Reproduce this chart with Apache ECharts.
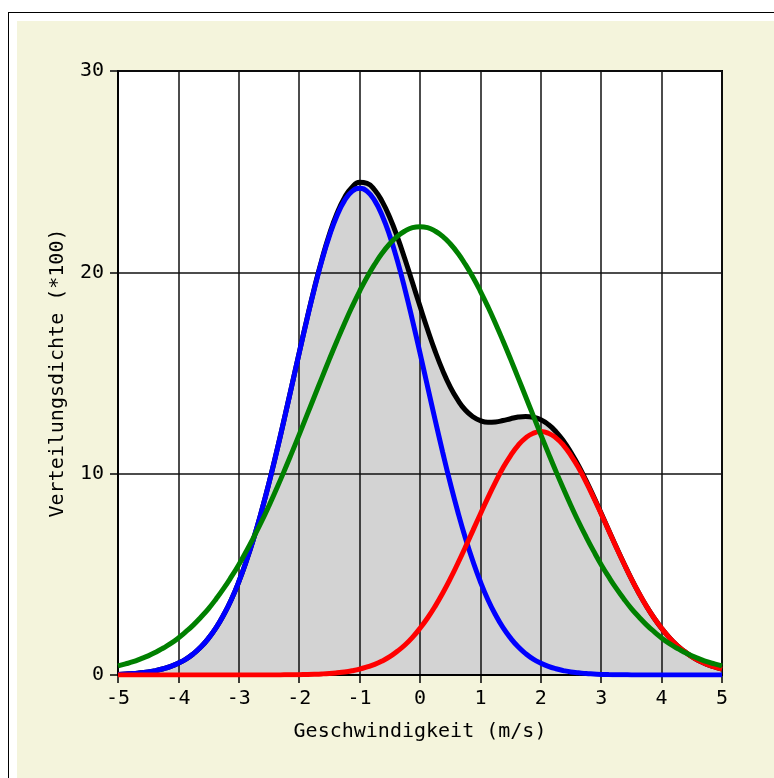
<!DOCTYPE html>
<html>
<head>
<meta charset="utf-8">
<script src="https://cdn.jsdelivr.net/npm/echarts@6/dist/echarts.min.js"></script>
<style>
  html, body { margin: 0; padding: 0; background: #fff; }
  #frame { position: absolute; left: 8px; top: 12px; width: 820px; height: 820px;
           border: 1.5px solid #000; box-sizing: border-box; background: #fff; }
  #panel { position: absolute; left: 17px; top: 21px; width: 800px; height: 800px; background: #f4f4dc; }
  #wrap { position: absolute; left: 0; top: 0; width: 774px; height: 778px; overflow: hidden; }
  #chart { position: absolute; left: 0; top: 0; width: 774px; height: 778px; }
</style>
</head>
<body>
<div id="wrap">
  <div id="frame"></div>
  <div id="panel"></div>
  <div id="chart"></div>
</div>
<script>
// Geschwindigkeit (m/s), sampled every 0.125
const speeds = [
  -5, -4.875, -4.75, -4.625, -4.5, -4.375, -4.25, -4.125,
  -4, -3.875, -3.75, -3.625, -3.5, -3.375, -3.25, -3.125,
  -3, -2.875, -2.75, -2.625, -2.5, -2.375, -2.25, -2.125,
  -2, -1.875, -1.75, -1.625, -1.5, -1.375, -1.25, -1.125,
  -1, -0.875, -0.75, -0.625, -0.5, -0.375, -0.25, -0.125,
  0,
  0.125, 0.25, 0.375, 0.5, 0.625, 0.75, 0.875, 1,
  1.125, 1.25, 1.375, 1.5, 1.625, 1.75, 1.875, 2,
  2.125, 2.25, 2.375, 2.5, 2.625, 2.75, 2.875, 3,
  3.125, 3.25, 3.375, 3.5, 3.625, 3.75, 3.875, 4,
  4.125, 4.25, 4.375, 4.5, 4.625, 4.75, 4.875, 5];

// Komponente 1 (blau), Verteilungsdichte *100
const compA = [
  0.03, 0.05, 0.07, 0.11, 0.15, 0.22, 0.31, 0.43, 0.59, 0.79, 1.06, 1.40, 1.83, 2.35, 2.99, 3.74,
  4.63, 5.66, 6.82, 8.12, 9.54, 11.07, 12.68, 14.33, 15.99, 17.62, 19.17, 20.58, 21.81, 22.81, 23.56, 24.02,
  24.18,
  24.02, 23.56, 22.81, 21.81, 20.58, 19.17, 17.62, 15.99, 14.33, 12.68, 11.07, 9.54, 8.12, 6.82, 5.66, 4.63,
  3.74, 2.99, 2.35, 1.83, 1.40, 1.06, 0.79, 0.59, 0.43, 0.31, 0.22, 0.15, 0.11, 0.07, 0.05, 0.03,
  0.02, 0.014, 0.009, 0.006, 0.004, 0.002, 0.001, 0, 0, 0, 0, 0, 0, 0, 0, 0];

// Komponente 2 (rot)
const compB = [
  0, 0, 0, 0, 0, 0, 0, 0, 0, 0, 0, 0, 0, 0, 0, 0, 0,
  0.001, 0.001, 0.002, 0.003, 0.004, 0.007, 0.011, 0.016,
  0.024, 0.036, 0.053, 0.077, 0.11, 0.15, 0.21, 0.29,
  0.40, 0.53, 0.70, 0.91, 1.18, 1.49, 1.87, 2.32,
  2.83, 3.41, 4.06, 4.77, 5.54, 6.34, 7.17, 8.00,
  8.81, 9.58, 10.29, 10.90, 11.41, 11.78, 12.01, 12.09,
  12.01, 11.78, 11.41, 10.90, 10.29, 9.58, 8.81, 8.00,
  7.17, 6.34, 5.54, 4.77, 4.06, 3.41, 2.83, 2.32,
  1.87, 1.49, 1.18, 0.91, 0.70, 0.53, 0.40, 0.29];

// Einfache Normalverteilung (grün)
const single = [
  0.45, 0.55, 0.66, 0.80, 0.95, 1.13, 1.34, 1.57,
  1.84, 2.15, 2.49, 2.88, 3.30, 3.78, 4.30, 4.87,
  5.48, 6.15, 6.86, 7.61, 8.41, 9.25, 10.12, 11.02,
  11.94, 12.88, 13.82, 14.76, 15.69, 16.59, 17.46, 18.29,
  19.06, 19.77, 20.40, 20.96, 21.42, 21.79, 22.05, 22.22,
  22.27,
  22.22, 22.05, 21.79, 21.42, 20.96, 20.40, 19.77, 19.06,
  18.29, 17.46, 16.59, 15.69, 14.76, 13.82, 12.88, 11.94,
  11.02, 10.12, 9.25, 8.41, 7.61, 6.86, 6.15, 5.48,
  4.87, 4.30, 3.78, 3.30, 2.88, 2.49, 2.15, 1.84,
  1.57, 1.34, 1.13, 0.95, 0.80, 0.66, 0.55, 0.45];

const xTicks = [-5, 5, 1];
const yTicks = [0, 30, 10];

// Mischung = Summe beider Komponenten
const mixture = compA.map((v, i) => v + compB[i]);
const pairs = arr => speeds.map((x, i) => [x, arr[i]]);

const font = 'DejaVu Sans Mono';
const chart = echarts.init(document.getElementById('chart'), null, { renderer: 'canvas' });

const lineSeries = (data, color, z) => ({
  type: 'line', data: pairs(data), smooth: true, symbol: 'none', z: z,
  lineStyle: { color: color, width: 5 }, silent: true, animation: false
});

const axisCommon = {
  axisLine: { show: true, onZero: false, lineStyle: { color: '#000', width: 2 } },
  axisTick: { show: true, length: 8, lineStyle: { color: '#000', width: 1.5 } },
  splitLine: { show: true, lineStyle: { color: '#111', width: 1.5 } }
};

chart.setOption({
  backgroundColor: 'transparent',
  animation: false,
  grid: { left: 118, top: 71, width: 604, height: 604, show: true,
          backgroundColor: '#fff', borderColor: '#000', borderWidth: 2 },
  xAxis: Object.assign({
    type: 'value', min: xTicks[0], max: xTicks[1], interval: xTicks[2], z: 2,
    name: 'Geschwindigkeit (m/s)', nameLocation: 'middle', nameGap: 47,
    nameTextStyle: { fontFamily: font, fontSize: 20, color: '#000' },
    axisLabel: { fontFamily: font, fontSize: 20, color: '#000', margin: 14 }
  }, axisCommon),
  yAxis: Object.assign({
    type: 'value', min: yTicks[0], max: yTicks[1], interval: yTicks[2], z: 2,
    name: 'Verteilungsdichte (*100)', nameLocation: 'middle', nameGap: 50,
    nameTextStyle: { fontFamily: font, fontSize: 20, color: '#000' },
    axisLabel: { fontFamily: font, fontSize: 20, color: '#000', margin: 14 }
  }, axisCommon),
  series: [
    { type: 'line', data: pairs(mixture), smooth: true, symbol: 'none', z: 1, silent: true,
      lineStyle: { width: 0, opacity: 0 }, areaStyle: { color: '#d3d3d3', opacity: 1 } },
    lineSeries(mixture, '#000', 3),
    lineSeries(compA, '#0000ff', 3),
    lineSeries(compB, '#ff0000', 3),
    lineSeries(single, '#008000', 3)
  ]
});
</script>
</body>
</html>
